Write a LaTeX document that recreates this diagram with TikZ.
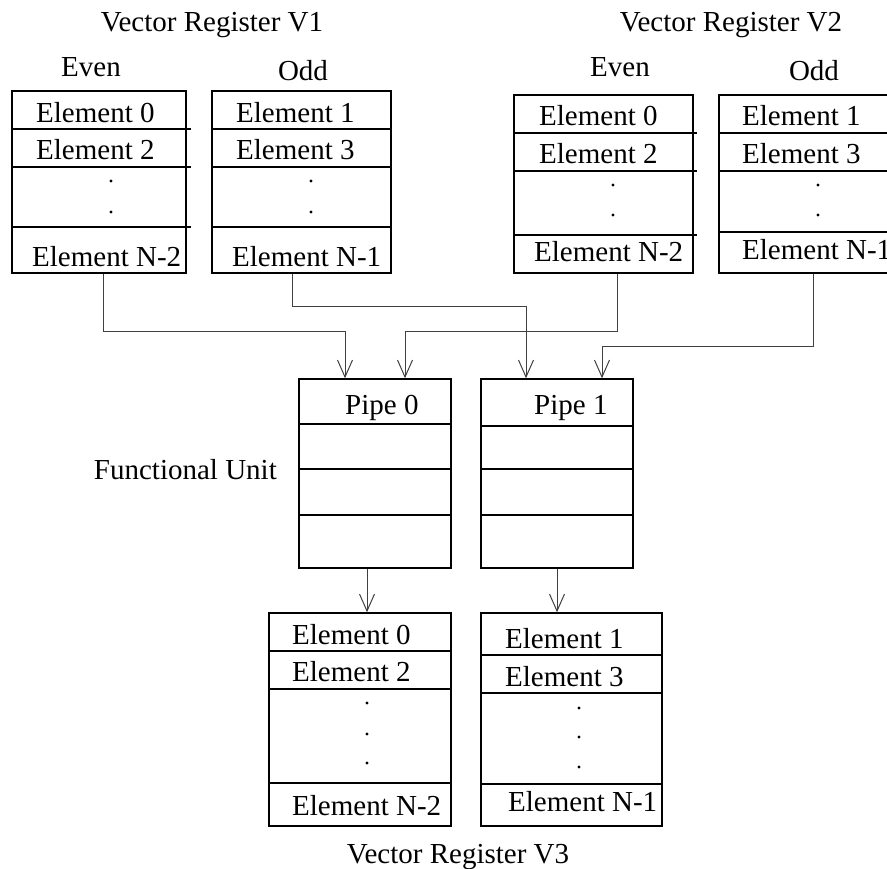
\documentclass[tikz,border=0pt]{standalone}
\usepackage{fontspec}
\setmainfont{Liberation Serif}
\usetikzlibrary{arrows.meta}
\begin{document}
\begin{tikzpicture}[x=1pt,y=-1pt,
  box/.style={draw,line width=1.5pt,inner sep=0pt},
  rowline/.style={line width=1.5pt},
  lbl/.style={anchor=base west,inner sep=0pt,font=\fontsize{29}{34}\selectfont},
  clbl/.style={anchor=base,inner sep=0pt,font=\fontsize{29}{34}\selectfont},
  arr/.style={line width=1pt,draw=black!75,-{Straight Barb[length=17pt,width=15pt,line width=1pt]}},
  dot/.style={fill=black}]
\clip (0,0) rectangle (887,869);
\fill[white] (0,0) rectangle (887,869);
% headings
\node[clbl] (h1) at (212,32) {Vector Register V1};
\node[clbl] (h2) at (731,32) {Vector Register V2};
\node[clbl] (e1) at (91,77) {Even};
\node[clbl] (o1) at (303,81) {Odd};
\node[clbl] (e2) at (620,77) {Even};
\node[clbl] (o2) at (814,81) {Odd};
% V1 even
\node[box,minimum width=174pt,minimum height=182pt] (v1e) at (99,182) {};
\draw[rowline] (12,129) -- (191,129);
\draw[rowline] (12,167) -- (191,167);
\draw[rowline] (12,227) -- (191,227);
\node[lbl] (v1e0) at (36,123) {Element 0};
\node[lbl] (v1e2) at (36,160) {Element 2};
\node[lbl] (v1en) at (32,267) {Element N-2};
\fill[dot] (111,181) circle (1.6);
\fill[dot] (111,212) circle (1.6);
% V1 odd
\node[box,minimum width=179pt,minimum height=182pt] (v1o) at (301.5,182) {};
\draw[rowline] (212,129) -- (391,129);
\draw[rowline] (212,167) -- (391,167);
\draw[rowline] (212,227) -- (391,227);
\node[lbl] (v1o1) at (236,123) {Element 1};
\node[lbl] (v1o3) at (236,160) {Element 3};
\node[lbl] (v1on) at (232,267) {Element N-1};
\fill[dot] (311,181) circle (1.6);
\fill[dot] (311,212) circle (1.6);
% V2 even
\node[box,minimum width=179pt,minimum height=178pt] (v2e) at (603.5,184) {};
\draw[rowline] (514,133) -- (697,133);
\draw[rowline] (514,171) -- (697,171);
\draw[rowline] (514,235) -- (697,235);
\node[lbl] (v2e0) at (539,126) {Element 0};
\node[lbl] (v2e2) at (539,164) {Element 2};
\node[lbl] (v2en) at (534,262) {Element N-2};
\fill[dot] (613,185) circle (1.6);
\fill[dot] (613,215) circle (1.6);
% V2 odd
\node[box,minimum width=179pt,minimum height=178pt] (v2o) at (808.5,184) {};
\draw[rowline] (719,133) -- (898,133);
\draw[rowline] (719,171) -- (898,171);
\draw[rowline] (719,232) -- (898,232);
\node[lbl] (v2o1) at (742,126) {Element 1};
\node[lbl] (v2o3) at (742,164) {Element 3};
\node[lbl] (v2on) at (742,260) {Element N-1};
\fill[dot] (818,185) circle (1.6);
\fill[dot] (818,215) circle (1.6);
% pipes
\node[box,minimum width=152pt,minimum height=189pt] (p0) at (375,473.5) {};
\draw[rowline] (299,424) -- (451,424);
\draw[rowline] (299,469) -- (451,469);
\draw[rowline] (299,515) -- (451,515);
\node[lbl] (p0t) at (345,414) {Pipe 0};
\node[box,minimum width=152pt,minimum height=189pt] (p1) at (557,473.5) {};
\draw[rowline] (481,426) -- (633,426);
\draw[rowline] (481,469) -- (633,469);
\draw[rowline] (481,515) -- (633,515);
\node[lbl] (p1t) at (534,414) {Pipe 1};
\node[anchor=base east,inner sep=0pt,font=\fontsize{29}{34}\selectfont] (fu) at (277,479) {Functional Unit};
% V3 even
\node[box,minimum width=182pt,minimum height=213pt] (v3e) at (360,719.5) {};
\draw[rowline] (269,651) -- (451,651);
\draw[rowline] (269,689) -- (451,689);
\draw[rowline] (269,783) -- (451,783);
\node[lbl] (v3e0) at (292,644) {Element 0};
\node[lbl] (v3e2) at (292,681) {Element 2};
\node[lbl] (v3en) at (292,815) {Element N-2};
\fill[dot] (367,703) circle (1.6);
\fill[dot] (367,734) circle (1.6);
\fill[dot] (367,763) circle (1.6);
% V3 odd
\node[box,minimum width=181pt,minimum height=213pt] (v3o) at (571.5,719.5) {};
\draw[rowline] (481,655) -- (662,655);
\draw[rowline] (481,693) -- (662,693);
\draw[rowline] (481,784) -- (662,784);
\node[lbl] (v3o1) at (505,648) {Element 1};
\node[lbl] (v3o3) at (505,686) {Element 3};
\node[lbl] (v3on) at (508,811) {Element N-1};
\fill[dot] (579,708) circle (1.6);
\fill[dot] (579,737) circle (1.6);
\fill[dot] (579,767) circle (1.6);
\node[clbl] (h3) at (458,863) {Vector Register V3};
% connector x positions
\coordinate (xa) at (103,0);
\coordinate (xb) at (292,0);
\coordinate (xc) at (617,0);
\coordinate (xd) at (813,0);
\coordinate (ya) at (345,0);
\coordinate (yb) at (405,0);
\coordinate (yc) at (526,0);
\coordinate (yd) at (602,0);
\coordinate (za) at (367,0);
\coordinate (zb) at (557,0);
\draw[arr] (v1e.south -| xa) -- ++(0,58) -| (p0.north -| ya);
\draw[arr] (v1o.south -| xb) -- ++(0,33) -| (p1.north -| yc);
\draw[arr] (v2e.south -| xc) -- ++(0,58) -| (p0.north -| yb);
\draw[arr] (v2o.south -| xd) -- ++(0,73) -| (p1.north -| yd);
\draw[arr] (p0.south -| za) -- (v3e.north -| za);
\draw[arr] (p1.south -| zb) -- (v3o.north -| zb);
\end{tikzpicture}
\end{document}
